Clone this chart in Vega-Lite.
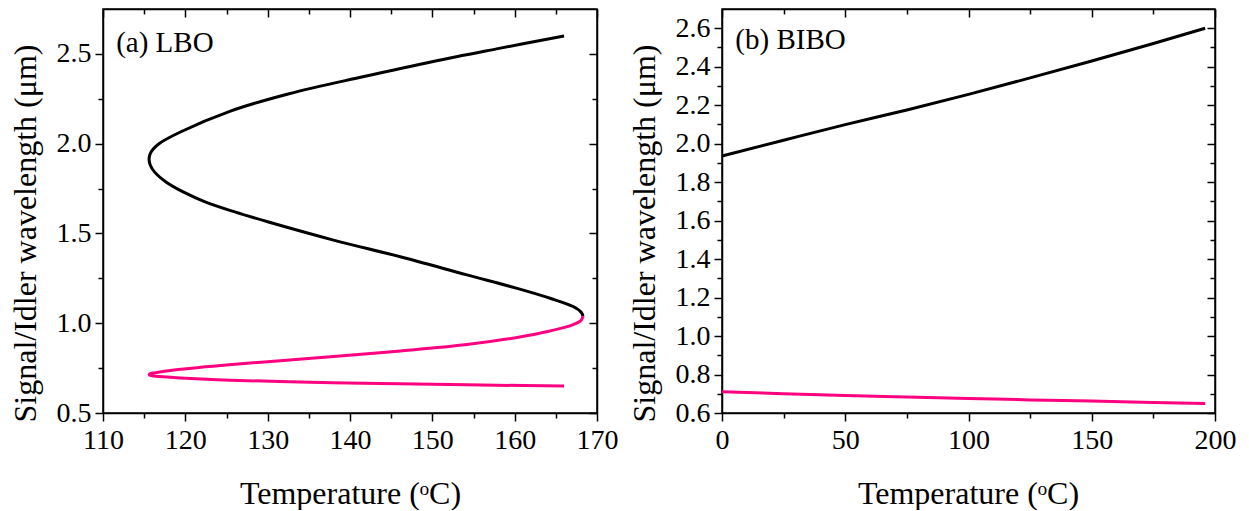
{
  "$schema": "https://vega.github.io/schema/vega-lite/v6.json",
  "background": "white",
  "padding": {"left": 8, "top": 7, "right": 0, "bottom": 0},
  "datasets": {
    "lbo": [
      {"branch": "signal", "T": 168.3, "wl": 1.04},
      {"branch": "signal", "T": 168.1, "wl": 1.06},
      {"branch": "signal", "T": 167.1, "wl": 1.093},
      {"branch": "signal", "T": 164.3, "wl": 1.139},
      {"branch": "signal", "T": 160.3, "wl": 1.194},
      {"branch": "signal", "T": 154.2, "wl": 1.269},
      {"branch": "signal", "T": 146.1, "wl": 1.37},
      {"branch": "signal", "T": 138.0, "wl": 1.463},
      {"branch": "signal", "T": 130.0, "wl": 1.565},
      {"branch": "signal", "T": 126.0, "wl": 1.62},
      {"branch": "signal", "T": 122.4, "wl": 1.676},
      {"branch": "signal", "T": 119.8, "wl": 1.73},
      {"branch": "signal", "T": 117.65, "wl": 1.787},
      {"branch": "signal", "T": 116.25, "wl": 1.843},
      {"branch": "signal", "T": 115.75, "wl": 1.88},
      {"branch": "signal", "T": 115.6, "wl": 1.91},
      {"branch": "signal", "T": 115.7, "wl": 1.94},
      {"branch": "signal", "T": 116.1, "wl": 1.97},
      {"branch": "signal", "T": 116.8, "wl": 2.0},
      {"branch": "signal", "T": 119.4, "wl": 2.065},
      {"branch": "signal", "T": 125.4, "wl": 2.18},
      {"branch": "signal", "T": 132.6, "wl": 2.278},
      {"branch": "signal", "T": 141.7, "wl": 2.374},
      {"branch": "signal", "T": 150.1, "wl": 2.458},
      {"branch": "signal", "T": 157.8, "wl": 2.528},
      {"branch": "signal", "T": 166.0, "wl": 2.6},
      {"branch": "idler", "T": 166.0, "wl": 0.65},
      {"branch": "idler", "T": 157.8, "wl": 0.6547},
      {"branch": "idler", "T": 150.1, "wl": 0.6595},
      {"branch": "idler", "T": 141.7, "wl": 0.6659},
      {"branch": "idler", "T": 132.6, "wl": 0.6738},
      {"branch": "idler", "T": 125.4, "wl": 0.6829},
      {"branch": "idler", "T": 119.4, "wl": 0.695},
      {"branch": "idler", "T": 116.8, "wl": 0.7027},
      {"branch": "idler", "T": 116.1, "wl": 0.7065},
      {"branch": "idler", "T": 115.7, "wl": 0.7104},
      {"branch": "idler", "T": 115.6, "wl": 0.7146},
      {"branch": "idler", "T": 115.75, "wl": 0.7188},
      {"branch": "idler", "T": 116.25, "wl": 0.7235},
      {"branch": "idler", "T": 117.65, "wl": 0.7334},
      {"branch": "idler", "T": 119.5, "wl": 0.7434},
      {"branch": "idler", "T": 122.4, "wl": 0.757},
      {"branch": "idler", "T": 125.3, "wl": 0.7685},
      {"branch": "idler", "T": 130.0, "wl": 0.786},
      {"branch": "idler", "T": 138.0, "wl": 0.814},
      {"branch": "idler", "T": 146.1, "wl": 0.845},
      {"branch": "idler", "T": 154.2, "wl": 0.881},
      {"branch": "idler", "T": 160.3, "wl": 0.921},
      {"branch": "idler", "T": 164.3, "wl": 0.957},
      {"branch": "idler", "T": 167.1, "wl": 0.992},
      {"branch": "idler", "T": 168.1, "wl": 1.018},
      {"branch": "idler", "T": 168.3, "wl": 1.04}
    ],
    "bibo": [
      {"branch": "signal", "T": 0, "wl": 1.936},
      {"branch": "signal", "T": 25, "wl": 2.018},
      {"branch": "signal", "T": 50, "wl": 2.099},
      {"branch": "signal", "T": 75, "wl": 2.175},
      {"branch": "signal", "T": 100, "wl": 2.256},
      {"branch": "signal", "T": 125, "wl": 2.342},
      {"branch": "signal", "T": 150, "wl": 2.43},
      {"branch": "signal", "T": 175, "wl": 2.521},
      {"branch": "signal", "T": 196, "wl": 2.6},
      {"branch": "idler", "T": 0, "wl": 0.711},
      {"branch": "idler", "T": 25, "wl": 0.7005},
      {"branch": "idler", "T": 50, "wl": 0.691},
      {"branch": "idler", "T": 75, "wl": 0.683},
      {"branch": "idler", "T": 100, "wl": 0.676},
      {"branch": "idler", "T": 125, "wl": 0.668},
      {"branch": "idler", "T": 150, "wl": 0.662},
      {"branch": "idler", "T": 175, "wl": 0.655},
      {"branch": "idler", "T": 196, "wl": 0.65}
    ],
    "tagA": [{"T": 111.6, "wl": 2.51, "label": "(a) LBO"}],
    "tagB": [{"T": 5.4, "wl": 2.49, "label": "(b) BIBO"}]
  },
  "hconcat": [
    {
      "width": 494,
      "height": 404,
      "layer": [
        {
          "data": {"name": "lbo"},
          "mark": {"type": "line", "strokeWidth": 3, "interpolate": "catmull-rom"},
          "encoding": {
            "x": {
              "field": "T", "type": "quantitative",
              "scale": {"domain": [110, 170], "nice": false, "zero": false},
              "axis": {
                "orient": "bottom",
                "values": [110, 115, 120, 125, 130, 135, 140, 145, 150, 155, 160, 165, 170],
                "tickSize": {"condition": {"test": "datum.value % 10 === 0", "value": 8}, "value": 5},
                "labelExpr": "datum.value % 10 === 0 ? datum.label : ''",
                "labelPadding": 5,
                "title": "Temperature (ᵒC)",
                "titleX": 247, "titleY": 90,
                "titleAlign": "center", "titleBaseline": "alphabetic"
              }
            },
            "y": {
              "field": "wl", "type": "quantitative",
              "scale": {"domain": [0.5, 2.75], "nice": false, "zero": false},
              "axis": {
                "orient": "left",
                "values": [0.5, 0.75, 1.0, 1.25, 1.5, 1.75, 2.0, 2.25, 2.5],
                "format": ".1f",
                "tickSize": {"condition": {"test": "abs(datum.value * 2 - round(datum.value * 2)) < 1e-6", "value": 8}, "value": 5},
                "labelExpr": "abs(datum.value * 2 - round(datum.value * 2)) < 1e-6 ? datum.label : ''",
                "labelPadding": 4,
                "title": "Signal/Idler wavelength (μm)",
                "titleAngle": -90, "titleX": -68, "titleY": 224,
                "titleAlign": "center", "titleBaseline": "alphabetic"
              }
            },
            "color": {
              "field": "branch", "type": "nominal",
              "scale": {"domain": ["signal", "idler"], "range": ["#000000", "#ff0080"]},
              "legend": null
            },
            "order": {"field": "wl", "type": "quantitative"}
          }
        },
        {
          "data": {"name": "tagA"},
          "mark": {"type": "text", "align": "left", "baseline": "alphabetic", "fontSize": 29, "font": "Liberation Serif", "color": "black"},
          "encoding": {
            "x": {
              "field": "T", "type": "quantitative",
              "scale": {"domain": [110, 170], "nice": false, "zero": false},
              "axis": {
                "orient": "top",
                "values": [110, 115, 120, 125, 130, 135, 140, 145, 150, 155, 160, 165, 170],
                "labels": false, "title": null,
                "tickSize": {"condition": {"test": "datum.value % 10 === 0", "value": -8}, "value": -5}
              }
            },
            "y": {
              "field": "wl", "type": "quantitative",
              "scale": {"domain": [0.5, 2.75], "nice": false, "zero": false},
              "axis": {
                "orient": "right",
                "values": [0.5, 0.75, 1.0, 1.25, 1.5, 1.75, 2.0, 2.25, 2.5],
                "labels": false, "title": null,
                "tickSize": {"condition": {"test": "abs(datum.value * 2 - round(datum.value * 2)) < 1e-6", "value": -8}, "value": -5}
              }
            },
            "text": {"field": "label"}
          }
        }
      ],
      "resolve": {"axis": {"x": "independent", "y": "independent"}}
    },
    {
      "width": 493,
      "height": 404,
      "layer": [
        {
          "data": {"name": "bibo"},
          "mark": {"type": "line", "strokeWidth": 3, "interpolate": "monotone"},
          "encoding": {
            "x": {
              "field": "T", "type": "quantitative",
              "scale": {"domain": [0, 200], "nice": false, "zero": false},
              "axis": {
                "orient": "bottom",
                "values": [0, 25, 50, 75, 100, 125, 150, 175, 200],
                "tickSize": {"condition": {"test": "datum.value % 50 === 0", "value": 8}, "value": 5},
                "labelExpr": "datum.value % 50 === 0 ? datum.label : ''",
                "labelPadding": 5,
                "title": "Temperature (ᵒC)",
                "titleX": 246, "titleY": 90,
                "titleAlign": "center", "titleBaseline": "alphabetic"
              }
            },
            "y": {
              "field": "wl", "type": "quantitative",
              "scale": {"domain": [0.6, 2.7], "nice": false, "zero": false},
              "axis": {
                "orient": "left",
                "values": [0.6, 0.7, 0.8, 0.9, 1.0, 1.1, 1.2, 1.3, 1.4, 1.5, 1.6, 1.7, 1.8, 1.9, 2.0, 2.1, 2.2, 2.3, 2.4, 2.5, 2.6],
                "format": ".1f",
                "tickSize": {"condition": {"test": "abs(datum.value * 5 - round(datum.value * 5)) < 1e-6", "value": 8}, "value": 5},
                "labelExpr": "abs(datum.value * 5 - round(datum.value * 5)) < 1e-6 ? datum.label : ''",
                "labelPadding": 4,
                "title": "Signal/Idler wavelength (μm)",
                "titleAngle": -90, "titleX": -68, "titleY": 224,
                "titleAlign": "center", "titleBaseline": "alphabetic"
              }
            },
            "color": {
              "field": "branch", "type": "nominal",
              "scale": {"domain": ["signal", "idler"], "range": ["#000000", "#ff0080"]},
              "legend": null
            }
          }
        },
        {
          "data": {"name": "tagB"},
          "mark": {"type": "text", "align": "left", "baseline": "alphabetic", "fontSize": 29, "font": "Liberation Serif", "color": "black"},
          "encoding": {
            "x": {
              "field": "T", "type": "quantitative",
              "scale": {"domain": [0, 200], "nice": false, "zero": false},
              "axis": {
                "orient": "top",
                "values": [0, 25, 50, 75, 100, 125, 150, 175, 200],
                "labels": false, "title": null,
                "tickSize": {"condition": {"test": "datum.value % 50 === 0", "value": -8}, "value": -5}
              }
            },
            "y": {
              "field": "wl", "type": "quantitative",
              "scale": {"domain": [0.6, 2.7], "nice": false, "zero": false},
              "axis": {
                "orient": "right",
                "values": [0.6, 0.7, 0.8, 0.9, 1.0, 1.1, 1.2, 1.3, 1.4, 1.5, 1.6, 1.7, 1.8, 1.9, 2.0, 2.1, 2.2, 2.3, 2.4, 2.5, 2.6],
                "labels": false, "title": null,
                "tickSize": {"condition": {"test": "abs(datum.value * 5 - round(datum.value * 5)) < 1e-6", "value": -8}, "value": -5}
              }
            },
            "text": {"field": "label"}
          }
        }
      ],
      "resolve": {"axis": {"x": "independent", "y": "independent"}}
    }
  ],
  "config": {
    "font": "Liberation Serif",
    "view": {"stroke": "black", "strokeWidth": 1.5},
    "concat": {"spacing": 8},
    "axis": {
      "grid": false,
      "domainColor": "black",
      "domainWidth": 1.5,
      "tickColor": "black",
      "tickWidth": 1.5,
      "labelColor": "black",
      "titleColor": "black",
      "labelFont": "Liberation Serif",
      "titleFont": "Liberation Serif",
      "labelFontSize": 28,
      "titleFontSize": 32,
      "titleFontWeight": "normal",
      "labelFlush": false,
      "labelOverlap": false,
      "labelBound": false
    }
  }
}
